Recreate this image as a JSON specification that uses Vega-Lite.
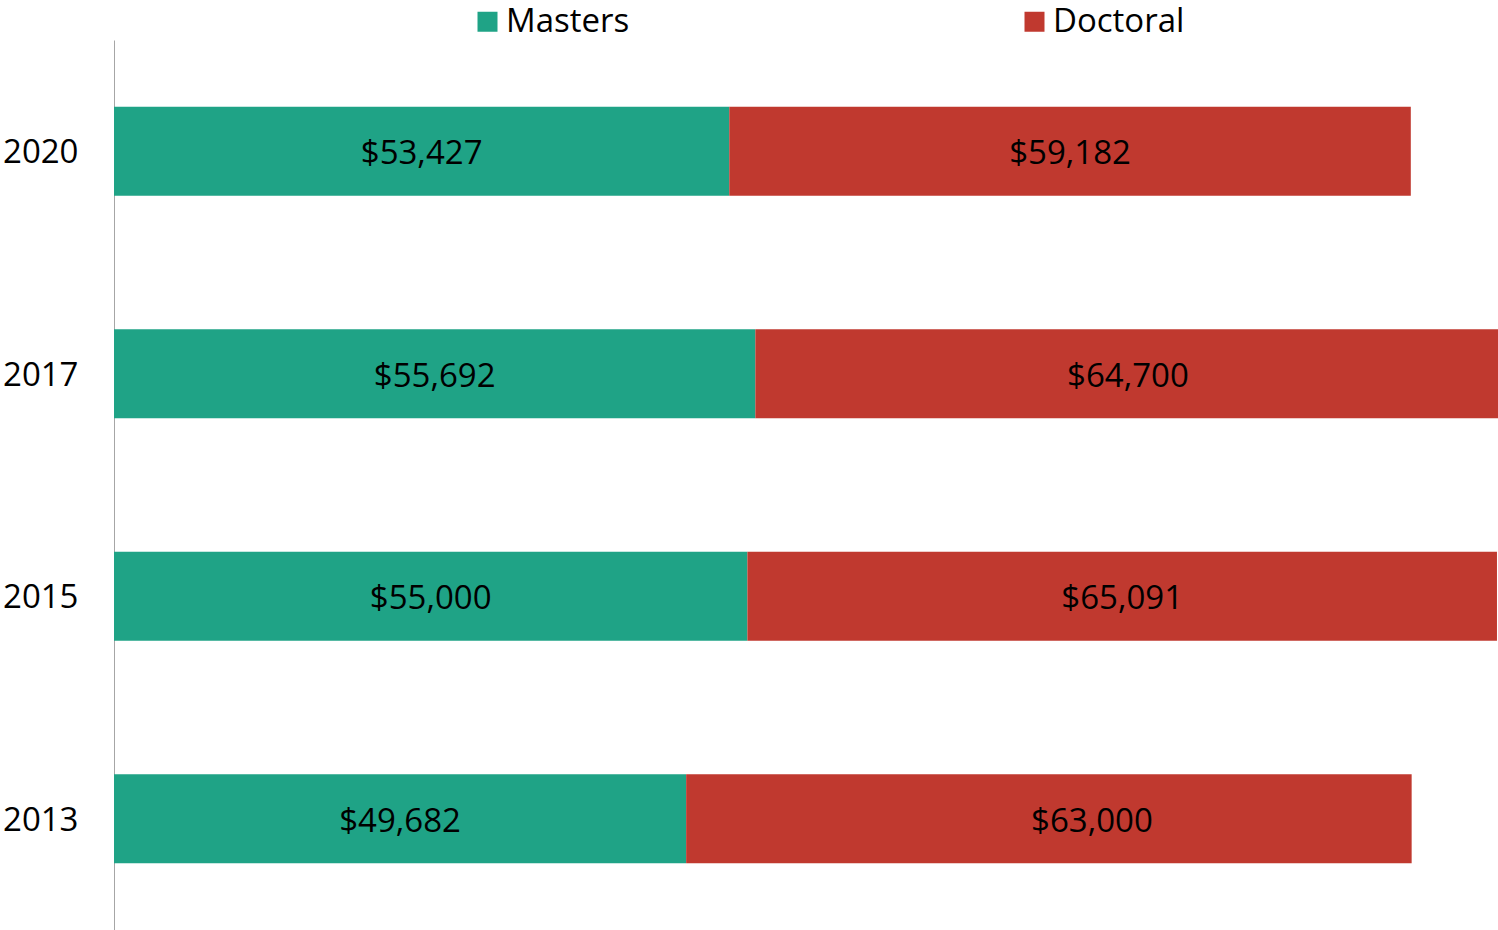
{
  "$schema": "https://vega.github.io/schema/vega-lite/v6.json",
  "width": 1384,
  "height": 890,
  "autosize": {"type": "none"},
  "padding": {"left": 114, "top": 40, "right": 0, "bottom": 0},
  "background": "white",
  "config": {"view": {"stroke": null}, "font": "Open Sans"},
  "data": {
    "values": [
      {"year": "2020", "degree": "Masters", "ord": 1, "salary": 53427},
      {"year": "2020", "degree": "Doctoral", "ord": 2, "salary": 59182},
      {"year": "2017", "degree": "Masters", "ord": 1, "salary": 55692},
      {"year": "2017", "degree": "Doctoral", "ord": 2, "salary": 64700},
      {"year": "2015", "degree": "Masters", "ord": 1, "salary": 55000},
      {"year": "2015", "degree": "Doctoral", "ord": 2, "salary": 65091},
      {"year": "2013", "degree": "Masters", "ord": 1, "salary": 49682},
      {"year": "2013", "degree": "Doctoral", "ord": 2, "salary": 63000}
    ]
  },
  "transform": [
    {"stack": "salary", "groupby": ["year"], "sort": [{"field": "ord", "order": "ascending"}], "as": ["s0", "s1"]},
    {"calculate": "(datum.s0 + datum.s1) / 2", "as": "mid"}
  ],
  "encoding": {
    "y": {
      "field": "year", "type": "ordinal",
      "sort": ["2020", "2017", "2015", "2013"],
      "scale": {"paddingInner": 0.6, "paddingOuter": 0.3},
      "axis": {
        "title": null, "ticks": false, "domainColor": "#A6A6A6", "domainWidth": 1,
        "labelFontSize": 33, "labelColor": "#000000", "labelPadding": 36,
        "labelFont": "Open Sans", "labelAlign": "right", "labelOffset": 2
      }
    }
  },
  "layer": [
    {
      "mark": {"type": "bar", "clip": true},
      "encoding": {
        "x": {"field": "s0", "type": "quantitative", "scale": {"domain": [0, 120180], "nice": false, "zero": true}, "axis": null},
        "x2": {"field": "s1"},
        "color": {
          "field": "degree", "type": "nominal",
          "sort": ["Masters", "Doctoral"],
          "scale": {"domain": ["Masters", "Doctoral"], "range": ["#1FA386", "#C0392F"]},
          "legend": {
            "title": null, "orient": "none", "legendX": 357, "legendY": -35,
            "direction": "horizontal", "columns": 2, "gridAlign": "all", "columnPadding": 380,
            "symbolType": "square", "symbolSize": 400, "symbolStrokeWidth": 0, "symbolOpacity": 1,
            "labelFontSize": 33, "labelFont": "Open Sans", "labelColor": "#000000", "labelOffset": 2,
            "padding": 0, "labelLimit": 400
          }
        }
      }
    },
    {
      "transform": [{"filter": "!(datum.year == '2013' && datum.degree == 'Doctoral')"}],
      "mark": {"type": "text", "fontSize": 33, "font": "Open Sans", "color": "#000000", "align": "center", "baseline": "middle", "dy": 3},
      "encoding": {
        "x": {"field": "mid", "type": "quantitative"},
        "text": {"field": "salary", "type": "quantitative", "format": "$,.0f"}
      }
    },
    {
      "transform": [{"filter": "datum.year == '2013' && datum.degree == 'Doctoral'"}],
      "mark": {"type": "text", "fontSize": 33, "font": "Open Sans", "color": "#000000", "align": "center", "baseline": "middle", "dy": 3, "dx": 43},
      "encoding": {
        "x": {"field": "mid", "type": "quantitative"},
        "text": {"field": "salary", "type": "quantitative", "format": "$,.0f"}
      }
    }
  ]
}
